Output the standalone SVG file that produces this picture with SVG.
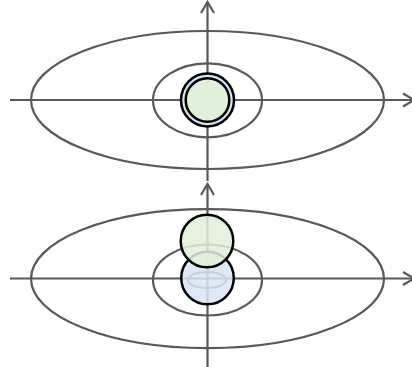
<svg xmlns="http://www.w3.org/2000/svg" width="412" height="367" viewBox="0 0 412 367">
<defs>
<style>
.ax{stroke:#595959;stroke-width:2.2;fill:none}
.el{stroke:#595959;stroke-width:2.2;fill:none}
.ring{stroke:#000;stroke-width:2.5}
.green{fill:#e2efda}
.blue{fill:#dae3f3}
.tr{fill-opacity:0.85}
</style>
<marker id="arr" viewBox="-12 -8 14 16" markerWidth="14" markerHeight="16" refX="0" refY="0" orient="auto" markerUnits="userSpaceOnUse">
<path d="M-11,-6.5 L0,0 L-11,6.5" fill="none" stroke="#595959" stroke-width="2.2"/>
</marker>
</defs>
<g id="connectors">
<line class="ax" x1="10" y1="100" x2="414" y2="100" marker-end="url(#arr)"/>
<line class="ax" x1="207.5" y1="181" x2="207.5" y2="2" marker-end="url(#arr)"/>
<line class="ax" x1="10" y1="278.5" x2="414" y2="278.5" marker-end="url(#arr)"/>
<line class="ax" x1="207.5" y1="367" x2="207.5" y2="184" marker-end="url(#arr)"/>
</g>
<g id="orbit-top-outer"><ellipse class="el" cx="207.5" cy="100" rx="176.5" ry="69"/></g>
<g id="orbit-top-inner"><ellipse class="el" cx="207.5" cy="100.3" rx="54.5" ry="37"/></g>
<g id="body-top">
<circle class="ring blue" cx="207.5" cy="100" r="26.5"/>
<circle class="ring green" cx="207.5" cy="100" r="21.8"/>
</g>
<g id="orbit-bottom-outer"><ellipse class="el" cx="207.5" cy="278.7" rx="176.5" ry="69.5"/></g>
<g id="orbit-bottom-inner"><ellipse class="el" cx="207.5" cy="280" rx="54.5" ry="35.5"/></g>
<g id="orbit-bottom-small"><ellipse class="el" cx="207" cy="280" rx="19" ry="8"/></g>
<g id="body-bottom-blue"><circle class="ring blue tr" cx="207.5" cy="278" r="26.3"/></g>
<g id="body-bottom-green"><circle class="ring green tr" cx="207" cy="241" r="26.3"/></g>
</svg>
